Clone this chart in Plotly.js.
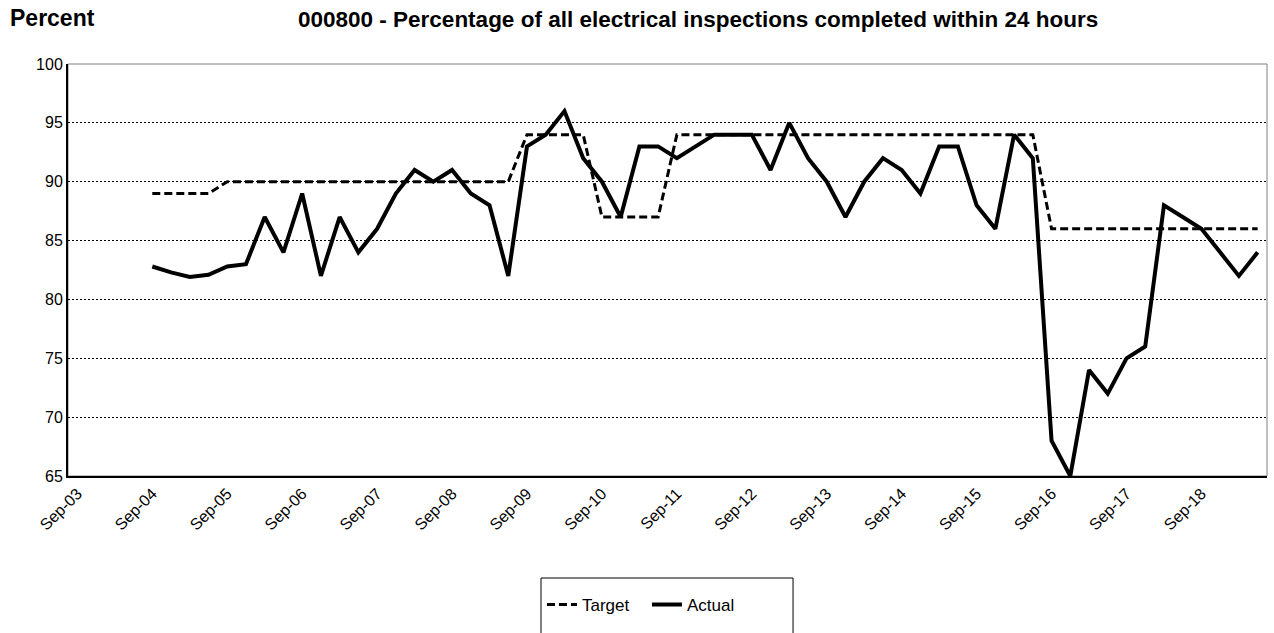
<!DOCTYPE html>
<html>
<head>
<meta charset="utf-8">
<script src="https://cdn.plot.ly/plotly-3.0.1.min.js"></script>
<style>
  html, body { margin: 0; padding: 0; background: #fff; }
  #chart { width: 1274px; height: 633px; }
</style>
</head>
<body>
<div id="chart"></div>
<script>
// quarters on the category axis (first four have no data)
var quarters = [
  "Sep-03", "Dec-03", "Mar-04", "Jun-04",
  "Sep-04", "Dec-04", "Mar-05", "Jun-05",
  "Sep-05", "Dec-05", "Mar-06", "Jun-06",
  "Sep-06", "Dec-06", "Mar-07", "Jun-07",
  "Sep-07", "Dec-07", "Mar-08", "Jun-08",
  "Sep-08", "Dec-08", "Mar-09", "Jun-09",
  "Sep-09", "Dec-09", "Mar-10", "Jun-10",
  "Sep-10", "Dec-10", "Mar-11", "Jun-11",
  "Sep-11", "Dec-11", "Mar-12", "Jun-12",
  "Sep-12", "Dec-12", "Mar-13", "Jun-13",
  "Sep-13", "Dec-13", "Mar-14", "Jun-14",
  "Sep-14", "Dec-14", "Mar-15", "Jun-15",
  "Sep-15", "Dec-15", "Mar-16", "Jun-16",
  "Sep-16", "Dec-16", "Mar-17", "Jun-17",
  "Sep-17", "Dec-17", "Mar-18", "Jun-18",
  "Sep-18", "Dec-18", "Mar-19", "Jun-19"
];

var target = [
  null, null, null, null,
  89, 89, 89, 89,
  90, 90, 90, 90,
  90, 90, 90, 90,
  90, 90, 90, 90,
  90, 90, 90, 90,
  94, 94, 94, 94,
  87, 87, 87, 87,
  94, 94, 94, 94,
  94, 94, 94, 94,
  94, 94, 94, 94,
  94, 94, 94, 94,
  94, 94, 94, 94,
  86, 86, 86, 86,
  86, 86, 86, 86,
  86, 86, 86, 86
];

var actual = [
  null, null, null, null,
  82.8, 82.3, 81.9, 82.1,
  82.8, 83, 87, 84,
  89, 82, 87, 84,
  86, 89, 91, 90,
  91, 89, 88, 82,
  93, 94, 96, 92,
  90, 87, 93, 93,
  92, 93, 94, 94,
  94, 91, 95, 92,
  90, 87, 90, 92,
  91, 89, 93, 93,
  88, 86, 94, 92,
  68, 65, 74, 72,
  75, 76, 88, 87,
  86, 84, 82, 84
];

var yearTicks = ["Sep-03", "Sep-04", "Sep-05", "Sep-06", "Sep-07", "Sep-08", "Sep-09", "Sep-10",
                 "Sep-11", "Sep-12", "Sep-13", "Sep-14", "Sep-15", "Sep-16", "Sep-17", "Sep-18"];

var font = "Arial, 'Liberation Sans', sans-serif";

var traces = [
  {
    x: quarters, y: target, name: "Target",
    type: "scatter", mode: "lines",
    line: {color: "#000", width: 3, dash: "8px,4px"}
  },
  {
    x: quarters, y: actual, name: "Actual",
    type: "scatter", mode: "lines",
    line: {color: "#000", width: 4}
  }
];

var layout = {
  width: 1274, height: 633,
  margin: {l: 68, r: 7, t: 64, b: 157},
  paper_bgcolor: "#fff", plot_bgcolor: "#fff",
  font: {family: font, size: 16, color: "#000"},
  title: {
    text: "<b>000800 - Percentage of all electrical inspections completed within 24 hours</b>",
    font: {family: font, size: 22.5, color: "#000"},
    xref: "container", x: 0.548, xanchor: "center",
    yref: "container", y: 0.97, yanchor: "middle"
  },
  xaxis: {
    type: "category",
    range: [-0.5, 63.5],
    tickvals: yearTicks, ticktext: yearTicks,
    tickangle: -45,
    ticks: "",
    showgrid: false,
    showline: true, linecolor: "#000", linewidth: 2,
    tickfont: {family: font, size: 16},
    fixedrange: true
  },
  yaxis: {
    range: [65, 100],
    dtick: 5,
    ticks: "",
    showgrid: true, gridcolor: "#000", gridwidth: 1, griddash: "2px,2px",
    showline: true, linecolor: "#000", linewidth: 2,
    zeroline: false,
    tickfont: {family: font, size: 16},
    fixedrange: true
  },
  showlegend: true,
  legend: {
    orientation: "h",
    x: 0.3953, xanchor: "left",
    y: -0.313, yanchor: "middle",
    entrywidth: 60,
    font: {family: font, size: 17},
    bgcolor: "rgba(0,0,0,0)"
  },
  annotations: [
    {
      text: "<b>Percent</b>",
      xref: "paper", yref: "paper",
      x: -0.05, y: 1.112, xanchor: "left", yanchor: "middle",
      showarrow: false,
      font: {family: font, size: 23, color: "#000"}
    }
  ],
  shapes: [
    {
      type: "rect", xref: "paper", yref: "paper",
      x0: 0, x1: 1, y0: 0, y1: 1,
      line: {color: "#808080", width: 1}, layer: "below"
    },
    {
      type: "rect", xref: "paper", yref: "paper",
      x0: 0.3945, x1: 0.6047, y0: -0.2476, y1: -0.45,
      line: {color: "#000", width: 1}, layer: "below"
    }
  ]
};

Plotly.newPlot("chart", traces, layout, {displayModeBar: false, staticPlot: true});
</script>
</body>
</html>
